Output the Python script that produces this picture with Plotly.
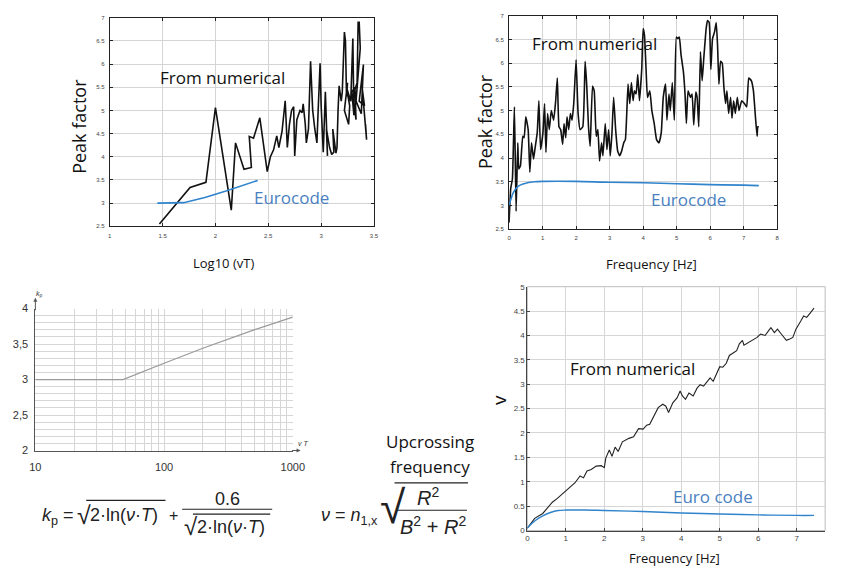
import plotly.graph_objects as go

W, H = 845, 575


def px(x):
    return x / W


def py(y):
    return 1 - y / H


# ---------------- data ----------------
# Top-left: peak factor vs log10(vT) (numerical)
tl_logvT = [1.47, 1.76, 1.91, 2.00, 2.15, 2.19, 2.27, 2.34, 2.32, 2.36, 2.42, 2.49, 2.52, 2.55,
            2.58, 2.60, 2.63, 2.66, 2.68, 2.70, 2.72, 2.74, 2.75, 2.77, 2.80, 2.82, 2.83, 2.85,
            2.86, 2.88, 2.90, 2.92, 2.94, 2.96, 2.97, 2.99, 3.00, 3.02, 3.04, 3.06, 3.05, 3.08,
            3.10, 3.12, 3.11, 3.14, 3.15, 3.16, 3.17, 3.19, 3.20, 3.22, 3.23, 3.24, 3.25, 3.22,
            3.26, 3.27, 3.24, 3.28, 3.30, 3.31, 3.29, 3.32, 3.33, 3.30, 3.34, 3.35, 3.36, 3.37,
            3.33, 3.38, 3.40, 3.36, 3.41, 3.39, 3.43, 3.42]
tl_peak = [2.55, 3.34, 3.45, 5.06, 2.85, 4.30, 3.73, 3.77, 4.44, 4.40, 4.84, 3.68, 4.00, 4.15,
           4.45, 4.20, 4.55, 5.21, 4.20, 4.70, 5.00, 5.08, 4.02, 4.80, 5.00, 4.95, 5.14, 4.70,
           4.30, 4.60, 6.06, 5.00, 4.60, 4.30, 4.90, 6.02, 5.10, 4.10, 5.40, 4.02, 4.60, 4.20,
           4.05, 4.10, 4.60, 4.08, 4.20, 5.00, 5.53, 5.20, 5.40, 6.69, 6.50, 5.30, 5.60, 5.00,
           4.70, 5.10, 5.50, 5.20, 6.55, 4.90, 5.40, 5.50, 4.80, 5.30, 5.60, 6.90, 6.90, 6.34,
           5.20, 4.93, 5.99, 5.20, 5.10, 5.45, 4.37, 4.70]

# Top-left: Eurocode
tl_euro_logvT = [1.45, 1.70, 1.90, 2.10, 2.40]
tl_euro_peak = [3.00, 3.01, 3.12, 3.26, 3.49]

# Top-right: peak factor vs frequency (numerical)
tr_freq = [0.00, 0.05, 0.10, 0.16, 0.21, 0.26, 0.29, 0.34, 0.41, 0.45, 0.50, 0.57, 0.62, 0.67,
           0.73, 0.77, 0.84, 0.89, 0.94, 1.01, 1.06, 1.10, 1.15, 1.20, 1.26, 1.33, 1.39, 1.44,
           1.49, 1.54, 1.60, 1.64, 1.69, 1.73, 1.78, 1.83, 1.88, 1.93, 2.00, 2.06, 2.12, 2.20,
           2.27, 2.32, 2.37, 2.42, 2.49, 2.54, 2.60, 2.65, 2.70, 2.76, 2.80, 2.87, 2.92, 2.97,
           3.02, 3.07, 3.12, 3.18, 3.24, 3.30, 3.36, 3.42, 3.47, 3.55, 3.60, 3.65, 3.70, 3.74,
           3.79, 3.84, 3.89, 3.96, 4.00, 4.04, 4.09, 4.13, 4.20, 4.26, 4.33, 4.40, 4.47, 4.54,
           4.60, 4.67, 4.71, 4.77, 4.81, 4.87, 4.93, 4.99, 5.03, 5.08, 5.13, 5.20, 5.25, 5.29,
           5.34, 5.41, 5.46, 5.51, 5.57, 5.61, 5.66, 5.71, 5.76, 5.81, 5.88, 5.92, 5.97, 6.02,
           6.07, 6.13, 6.18, 6.22, 6.26, 6.31, 6.36, 6.41, 6.46, 6.50, 6.55, 6.61, 6.65, 6.70,
           6.75, 6.81, 6.86, 6.94, 7.02, 7.09, 7.15, 7.23, 7.29, 7.35, 7.40, 7.42, 7.45]
tr_peak = [2.64, 3.36, 3.56, 5.08, 2.88, 4.32, 3.77, 3.84, 4.46, 4.43, 4.87, 4.60, 3.70, 4.32,
           3.98, 4.18, 4.53, 5.21, 4.18, 4.53, 5.15, 4.12, 4.94, 4.60, 5.00, 4.80, 5.20, 5.69,
           4.66, 4.60, 4.29, 4.73, 4.43, 4.87, 4.60, 4.94, 4.80, 5.15, 6.07, 4.94, 4.60, 4.66,
           6.04, 5.49, 4.66, 4.25, 5.52, 5.42, 4.46, 4.60, 3.94, 4.32, 4.05, 4.73, 4.18, 4.60,
           4.05, 4.53, 5.28, 4.60, 4.15, 4.05, 4.15, 4.32, 4.39, 5.56, 5.15, 5.59, 5.21, 5.42,
           5.35, 5.76, 5.21, 5.90, 6.73, 6.59, 5.83, 5.28, 5.42, 5.00, 4.73, 4.39, 4.32, 4.53,
           5.28, 5.56, 4.80, 5.35, 5.00, 5.59, 4.80, 6.55, 6.52, 6.55, 6.18, 5.83, 5.35, 4.73,
           5.42, 5.28, 5.35, 4.70, 5.39, 5.28, 4.66, 6.24, 5.63, 6.11, 6.73, 6.90, 6.86, 5.87,
           6.52, 6.66, 6.86, 6.38, 5.56, 6.04, 6.00, 5.49, 5.15, 5.42, 4.94, 5.28, 4.84, 5.21,
           4.94, 5.28, 5.00, 5.21, 5.15, 5.08, 5.69, 5.63, 5.42, 4.87, 4.46, 4.66, 4.66]

# Top-right: Eurocode
tr_euro_freq = [0.00, 0.05, 0.12, 0.26, 0.45, 0.75, 1.04, 2.0, 3.0, 4.0, 5.0, 6.0, 7.0, 7.45]
tr_euro_peak = [3.00, 3.12, 3.26, 3.40, 3.46, 3.50, 3.51, 3.51, 3.49, 3.48, 3.46, 3.44, 3.43, 3.42]

# Bottom-left: Eurocode kp vs vT
bl_vT = [10, 48, 100, 200, 500, 1000]
bl_kp = [3.00, 3.00, 3.23, 3.44, 3.70, 3.88]

# Bottom-right: upcrossing frequency (numerical)
br_freq = [0.00, 0.19, 0.40, 0.52, 0.65, 0.78, 0.95, 1.11, 1.24, 1.37, 1.46, 1.55, 1.66, 1.79,
           1.92, 2.00, 2.04, 2.13, 2.20, 2.28, 2.36, 2.47, 2.64, 2.76, 2.89, 3.01, 3.10, 3.18,
           3.27, 3.40, 3.52, 3.60, 3.67, 3.78, 3.89, 3.97, 4.03, 4.11, 4.20, 4.31, 4.41, 4.49,
           4.58, 4.66, 4.75, 4.83, 4.92, 5.00, 5.08, 5.17, 5.25, 5.34, 5.44, 5.51, 5.59, 5.63,
           5.76, 5.89, 5.97, 6.06, 6.18, 6.27, 6.33, 6.42, 6.50, 6.60, 6.73, 6.82, 6.90, 6.98,
           7.04, 7.11, 7.18, 7.26, 7.35, 7.45]
br_nu = [0.05, 0.25, 0.35, 0.45, 0.58, 0.66, 0.78, 0.90, 0.98, 1.12, 1.08, 1.22, 1.25, 1.32,
         1.33, 1.29, 1.49, 1.65, 1.52, 1.71, 1.62, 1.82, 1.89, 1.92, 2.09, 2.08, 2.16, 2.18,
         2.32, 2.52, 2.59, 2.55, 2.42, 2.62, 2.72, 2.86, 2.76, 2.69, 2.82, 2.76, 2.92, 2.99,
         2.96, 3.03, 3.13, 3.06, 3.23, 3.36, 3.35, 3.43, 3.59, 3.63, 3.69, 3.83, 3.90, 3.80,
         3.86, 3.93, 3.96, 4.03, 4.00, 4.10, 4.16, 4.06, 4.13, 4.03, 3.90, 3.93, 3.96, 4.13,
         4.20, 4.30, 4.40, 4.37, 4.46, 4.56]

# Bottom-right: Eurocode
br_euro_freq = [0.0, 0.2, 0.4, 0.6, 0.8, 1.0, 1.5, 2.0, 3.0, 4.0, 5.0, 6.0, 7.0, 7.45]
br_euro_nu = [0.05, 0.20, 0.30, 0.37, 0.41, 0.42, 0.42, 0.41, 0.39, 0.36, 0.34, 0.32, 0.31, 0.31]

# tick labels
tl_xticks = [1, 1.5, 2, 2.5, 3, 3.5]
top_yticks = [2.5, 3, 3.5, 4, 4.5, 5, 5.5, 6, 6.5, 7]
tr_xticks = [0, 1, 2, 3, 4, 5, 6, 7, 8]
bl_xgrid = [10, 20, 30, 40, 50, 60, 70, 80, 90, 100, 200, 300, 400, 500, 600, 700, 800, 900, 1000]
bl_xlabels = ["10", "", "", "", "", "", "", "", "", "100", "", "", "", "", "", "", "", "", "1000"]
bl_ygrid = [round(2 + 0.1 * i, 1) for i in range(21)]
bl_ylabel_map = {2.0: "2", 2.5: "2,5", 3.0: "3", 3.5: "3,5", 4.0: "4"}
br_xticks = [0, 1, 2, 3, 4, 5, 6, 7]
br_yticks = [0, 0.5, 1, 1.5, 2, 2.5, 3, 3.5, 4, 4.5, 5]

BLACK = "#111111"
BLUE = "#2f84cc"
BLUE_TXT = "#4a7fc1"

fig = go.Figure()
fig.add_trace(go.Scatter(x=tl_logvT, y=tl_peak, xaxis="x", yaxis="y", mode="lines",
                         line=dict(color=BLACK, width=1.6)))
fig.add_trace(go.Scatter(x=tl_euro_logvT, y=tl_euro_peak, xaxis="x", yaxis="y", mode="lines",
                         line=dict(color=BLUE, width=1.6)))
fig.add_trace(go.Scatter(x=tr_freq, y=tr_peak, xaxis="x2", yaxis="y2", mode="lines",
                         line=dict(color=BLACK, width=1.6, shape="spline", smoothing=0.4)))
fig.add_trace(go.Scatter(x=tr_euro_freq, y=tr_euro_peak, xaxis="x2", yaxis="y2", mode="lines",
                         line=dict(color=BLUE, width=1.6, shape="spline")))
fig.add_trace(go.Scatter(x=bl_vT, y=bl_kp, xaxis="x3", yaxis="y3", mode="lines",
                         line=dict(color="#9a9a9a", width=1.2)))
fig.add_trace(go.Scatter(x=br_freq, y=br_nu, xaxis="x4", yaxis="y4", mode="lines",
                         line=dict(color="#222222", width=1.1)))
fig.add_trace(go.Scatter(x=br_euro_freq, y=br_euro_nu, xaxis="x4", yaxis="y4", mode="lines",
                         line=dict(color=BLUE, width=1.4, shape="spline")))

small_tick = dict(size=6, color="#444444", family="Liberation Sans")
top_axis = dict(showgrid=True, gridcolor="#d4d4d4", gridwidth=1, showline=True,
                linecolor="#222222", linewidth=1, mirror="ticks", ticks="inside",
                ticklen=3, tickcolor="#222222", zeroline=False, tickfont=small_tick,
                ticklabelstandoff=3)

fig.update_layout(
    width=W, height=H, margin=dict(l=0, r=0, t=0, b=0),
    paper_bgcolor="white", plot_bgcolor="white", showlegend=False,
    xaxis=dict(domain=[px(106), px(376)], range=[1, 3.5], anchor="y",
               tickvals=tl_xticks, ticktext=[str(v) for v in tl_xticks], **top_axis),
    yaxis=dict(domain=[py(225), py(12)], range=[2.5, 7], anchor="x",
               tickvals=top_yticks, ticktext=[str(v) for v in top_yticks], **top_axis),
    xaxis2=dict(domain=[px(514), px(788)], range=[0, 8], anchor="y2",
                tickvals=tr_xticks, ticktext=[str(v) for v in tr_xticks], **top_axis),
    yaxis2=dict(domain=[py(228), py(10)], range=[2.5, 7], anchor="x2",
                tickvals=top_yticks, ticktext=[str(v) for v in top_yticks], **top_axis),
    xaxis3=dict(domain=[px(30), px(293)], type="log", range=[1, 3], anchor="y3",
                tickvals=bl_xgrid, ticktext=bl_xlabels, showgrid=True, gridcolor="#d6d6d6",
                showline=True, linecolor="#555555", zeroline=False, ticks="",
                ticklabelstandoff=6,
                tickfont=dict(size=11, color="#333333", family="Liberation Sans")),
    yaxis3=dict(domain=[py(454), py(309)], range=[2, 4], anchor="x3",
                tickvals=bl_ygrid, ticktext=[bl_ylabel_map.get(v, "") for v in bl_ygrid],
                showgrid=True, gridcolor="#d6d6d6", showline=True, linecolor="#555555",
                zeroline=False, ticks="", ticklabelstandoff=4,
                tickfont=dict(size=11, color="#333333", family="Liberation Sans")),
    xaxis4=dict(domain=[px(532.7), px(837)], range=[0, 7.74], anchor="y4",
                tickvals=br_xticks, ticktext=[str(v) for v in br_xticks], showgrid=True,
                gridcolor="#d6d6d6", showline=True, linecolor="#444444", zeroline=False,
                ticks="inside", ticklen=3, tickcolor="#444444",
                tickfont=dict(size=8, color="#444444", family="Liberation Sans")),
    yaxis4=dict(domain=[py(535.7), py(286.7)], range=[0, 5], anchor="x4",
                tickvals=br_yticks, ticktext=[str(v) for v in br_yticks], showgrid=True,
                gridcolor="#d6d6d6", showline=True, linecolor="#444444", zeroline=False,
                ticks="inside", ticklen=3, tickcolor="#444444",
                tickfont=dict(size=8, color="#444444", family="Liberation Sans")),
)

TXT = "Open Sans"
ann = []


def text(x, y, s, size, color="#111111", family=TXT, angle=0, xanchor="center", yanchor="middle"):
    ann.append(dict(x=px(x), y=py(y), xref="paper", yref="paper", text=s, showarrow=False,
                    font=dict(size=size, color=color, family=family), textangle=angle,
                    xanchor=xanchor, yanchor=yanchor))


# top-left texts
text(221, 73, "From numerical", 17)
text(292, 196, "Eurocode", 17, BLUE_TXT)
text(75, 123, "Peak factor", 18, angle=-90)
text(222, 262, "Log10 (vT)", 13)
# top-right texts
text(601, 38, "From numerical", 17)
text(697, 198, "Eurocode", 17, BLUE_TXT)
text(489, 118, "Peak factor", 18, angle=-90)
text(660, 263, "Frequency [Hz]", 13)
# bottom-right texts
text(640, 370, "From numerical", 17)
text(722, 501, "Euro code", 17, BLUE_TXT)
text(503, 402, "v", 19, angle=-90)
text(683, 564, "Frequency [Hz]", 13)
# middle texts
text(433, 445, "Upcrossing", 17)
text(433, 470, "frequency", 17)
# bottom-left axis labels
text(34, 294, "<i>k</i><sub>p</sub>", 7, "#333333", "Liberation Sans")
text(303, 447, "<i>v T</i>", 7, "#333333", "Liberation Sans")

# arrows of bottom-left chart
ann.append(dict(x=px(30), y=py(298), xref="paper", yref="paper", text="", showarrow=True,
                ax=0, ay=14, arrowhead=2, arrowsize=0.8, arrowwidth=1, arrowcolor="#555555"))
ann.append(dict(x=px(301), y=py(454), xref="paper", yref="paper", text="", showarrow=True,
                ax=-10, ay=0, arrowhead=2, arrowsize=0.8, arrowwidth=1, arrowcolor="#555555"))

# formulas
F = "Liberation Sans"
FC = "#222222"
text(35, 521, "<i>k</i><sub>p</sub> =", 18, FC, F, xanchor="left")
text(71, 520, "√", 25, FC, F, xanchor="left")
text(84, 520, "2·ln(<i>ν</i>·<i>T</i>)", 18, FC, F, xanchor="left")
text(171, 520, "+", 16, FC, F)
text(226, 503, "0.6", 18, FC, F)
text(180, 532, "√", 24, FC, F, xanchor="left")
text(193, 532, "2·ln(<i>ν</i>·<i>T</i>)", 18, FC, F, xanchor="left")
text(320, 521, "<i>ν</i> = <i>n</i><sub>1,x</sub>", 18, FC, F, xanchor="left")
text(380, 512, "√", 46, FC, F, xanchor="left")
text(431, 501, "<i>R</i><sup>2</sup>", 20, FC, F)
text(436, 531, "<i>B</i><sup>2</sup> + <i>R</i><sup>2</sup>", 20, FC, F)

shapes = []


def hline(x0, x1, y, w=1.2):
    shapes.append(dict(type="line", xref="paper", yref="paper", x0=px(x0), x1=px(x1),
                       y0=py(y), y1=py(y), line=dict(color=FC, width=w)))


hline(82, 163, 505)      # overline first sqrt
hline(180, 272, 514)     # fraction bar
hline(191, 270, 519)     # overline denominator sqrt
hline(397, 472, 487)     # big sqrt overline
hline(400, 471, 515)     # R^2 fraction bar

# light frame of bottom-right chart (top and right sides)
shapes.append(dict(type="rect", xref="paper", yref="paper", x0=px(532.7), x1=px(837),
                   y0=py(535.7), y1=py(286.7), line=dict(color="#bdbdbd", width=1),
                   layer="below"))

fig.update_layout(annotations=ann, shapes=shapes)
fig.write_html("out.html")
